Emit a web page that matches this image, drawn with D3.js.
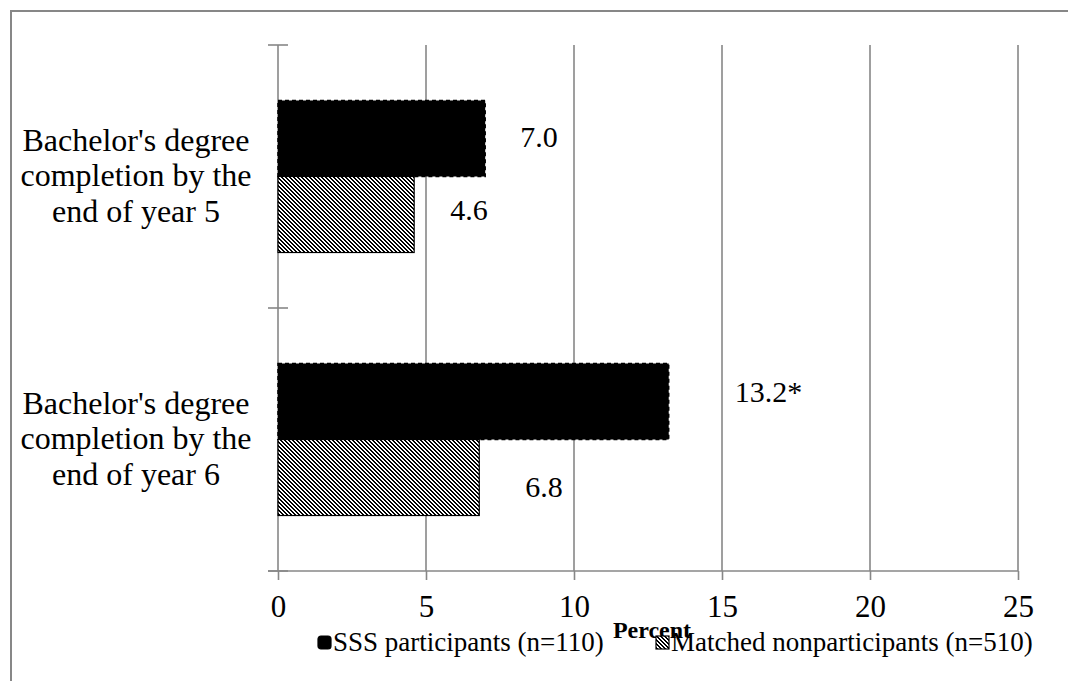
<!DOCTYPE html>
<html>
<head>
<meta charset="utf-8">
<script src="https://cdn.jsdelivr.net/npm/d3@7"></script>
<style>
  html, body { margin: 0; padding: 0; background: #fff; }
  svg { display: block; }
  text { font-family: "Liberation Serif", "Times New Roman", "DejaVu Serif", serif; fill: #000; }
</style>
</head>
<body>
<svg id="chart" width="1068" height="681"></svg>
<script>
// Outcome categories (top to bottom) and their wrapped label lines
const categories = ["year5", "year6"];
const categoryLines = [
  ["Bachelor's degree", "completion by the", "end of year 5"],
  ["Bachelor's degree", "completion by the", "end of year 6"]
];

// Series
const seriesNames = ["SSS participants (n=110)", "Matched nonparticipants (n=510)"];
const sssValues = [7.0, 13.2];
const matchedValues = [4.6, 6.8];
const sssLabels = ["7.0", "13.2*"];
const matchedLabels = ["4.6", "6.8"];

// Axis ticks
const xTicks = [0, 5, 10, 15, 20, 25];
const xTitle = "Percent";

// Hand placement of the value labels: [dx from bar end, dy from bar middle]
const sssLabelOffset = [[35, 9], [66, 1]];
const matchedLabelOffset = [[36, 5], [46, 19]];

const svg = d3.select("#chart");
const grey = "#878787";

// Outer frame (runs off the right and bottom edges)
svg.append("rect")
  .attr("x", 11).attr("y", 11).attr("width", 1200).attr("height", 800)
  .attr("fill", "none").attr("stroke", grey).attr("stroke-width", 2);

// Dark downward-diagonal hatch for the comparison group (pixel-aligned 4x4 tile)
const defs = svg.append("defs");
const pat = defs.append("pattern")
  .attr("id", "hatch").attr("patternUnits", "userSpaceOnUse")
  .attr("x", 0).attr("y", 0)
  .attr("width", 4).attr("height", 4);
pat.append("rect").attr("width", 4).attr("height", 4).attr("fill", "#fff");
const hatchPixels = [];
for (let r = 0; r < 4; r++) {
  hatchPixels.push([r, r]);
  hatchPixels.push([(r + 1) % 4, r]);
}
pat.selectAll("rect.px")
  .data(hatchPixels)
  .join("rect")
  .attr("class", "px")
  .attr("x", d => d[0]).attr("y", d => d[1])
  .attr("width", 1).attr("height", 1)
  .attr("fill", "#000")
  .attr("shape-rendering", "crispEdges");

const x = d3.scaleLinear().domain([0, 25]).range([278, 1018]);
const y = d3.scaleBand().domain(categories).range([45, 571]).padding(0);
const ySeries = d3.scaleBand().domain([0, 1]).range([0, y.bandwidth()])
  .paddingInner(0).paddingOuter(0.73);

const yTop = y.range()[0], yBottom = y.range()[1];

// Vertical gridlines
svg.append("g").selectAll("line")
  .data(xTicks.filter(d => d > 0))
  .join("line")
  .attr("x1", d => x(d)).attr("x2", d => x(d))
  .attr("y1", yTop).attr("y2", yBottom)
  .attr("stroke", grey).attr("stroke-width", 1.6);

// Category axis with crossing ticks at band boundaries
svg.append("line")
  .attr("x1", x(0)).attr("x2", x(0)).attr("y1", yTop).attr("y2", yBottom)
  .attr("stroke", grey).attr("stroke-width", 1.6);
const boundaries = [yTop].concat(categories.map(c => y(c) + y.bandwidth()));
svg.append("g").selectAll("line")
  .data(boundaries)
  .join("line")
  .attr("x1", x(0) - 10).attr("x2", x(0) + 10)
  .attr("y1", d => d).attr("y2", d => d)
  .attr("stroke", grey).attr("stroke-width", 1.6);

// Value axis along the bottom
const xAxis = svg.append("g")
  .attr("transform", `translate(0,${yBottom})`)
  .call(d3.axisBottom(x).tickValues(xTicks).tickSizeInner(9).tickSizeOuter(0).tickPadding(15).tickFormat(d3.format("d")));
xAxis.select(".domain").remove();
xAxis.attr("font-family", null);
xAxis.selectAll(".tick line").attr("stroke", grey).attr("stroke-width", 1.6);
xAxis.selectAll(".tick text")
  .style("font-family", "'Liberation Serif', 'Times New Roman', serif")
  .style("font-size", "31px").attr("fill", "#000");
svg.append("line")
  .attr("x1", x(0) - 10).attr("x2", x(25))
  .attr("y1", yBottom).attr("y2", yBottom)
  .attr("stroke", grey).attr("stroke-width", 1.6);

// Bars
const barData = [];
categories.forEach((c, i) => {
  barData.push({ cat: c, s: 0, v: sssValues[i], label: sssLabels[i], off: sssLabelOffset[i] });
  barData.push({ cat: c, s: 1, v: matchedValues[i], label: matchedLabels[i], off: matchedLabelOffset[i] });
});

const bars = svg.append("g");
bars.selectAll("rect")
  .data(barData)
  .join("rect")
  .attr("x", x(0))
  .attr("y", d => y(d.cat) + ySeries(d.s))
  .attr("width", d => x(d.v) - x(0))
  .attr("height", ySeries.bandwidth())
  .attr("fill", d => d.s === 0 ? "#000" : "url(#hatch)")
  .attr("stroke", "#000")
  .attr("stroke-width", d => d.s === 0 ? 1.5 : 1.2)
  .attr("stroke-dasharray", d => d.s === 0 ? "4,3" : null);

// Value labels
svg.append("g").selectAll("text")
  .data(barData)
  .join("text")
  .attr("x", d => x(d.v) + d.off[0])
  .attr("y", d => y(d.cat) + ySeries(d.s) + ySeries.bandwidth() / 2 + d.off[1])
  .style("font-size", "30px")
  .text(d => d.label);

// Category labels
const catText = svg.append("g").selectAll("text")
  .data(categories)
  .join("text")
  .attr("text-anchor", "middle")
  .style("font-size", "32px");
catText.each(function (c, i) {
  const t = d3.select(this);
  categoryLines[i].forEach((line, j) => {
    t.append("tspan")
      .attr("x", 136)
      .attr("y", y(c) + y.bandwidth() / 2 + 9.5 + (j - 1) * 35.5)
      .text(line);
  });
});

// Axis title
svg.append("text")
  .attr("x", 652).attr("y", 638)
  .attr("text-anchor", "middle")
  .style("font-size", "24px").style("font-weight", "bold")
  .text(xTitle);

// Legend
const legend = svg.append("g");
const legendX = [318, 656];
seriesNames.forEach((name, i) => {
  const g = legend.append("g").attr("transform", `translate(${legendX[i]},636)`);
  g.append("rect")
    .attr("width", 13).attr("height", 13)
    .attr("rx", i === 0 ? 3 : 0)
    .attr("fill", i === 0 ? "#000" : "url(#hatch)")
    .attr("stroke", "#000").attr("stroke-width", 1.2);
  g.append("text")
    .attr("x", 15).attr("y", 15)
    .style("font-size", "27px")
    .text(name);
});
</script>
</body>
</html>
